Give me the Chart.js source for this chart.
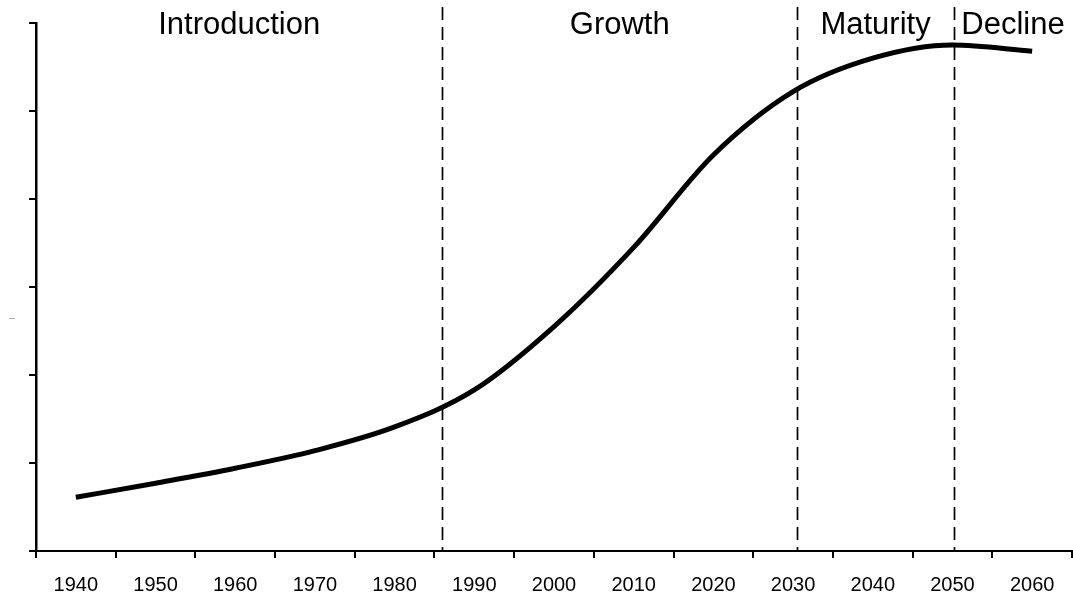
<!DOCTYPE html>
<html>
<head>
<meta charset="utf-8">
<script src="https://cdn.jsdelivr.net/npm/chart.js@4"></script>
<style>
  html, body { margin: 0; padding: 0; background: #fff; }
  #wrap { width: 1073px; height: 601px; position: relative; }
</style>
</head>
<body>
<div id="wrap"><canvas id="chart"></canvas></div>
<script>
// Product life cycle: sales volume over time, split into four stages
const years = ['1940', '1950', '1960', '1970', '1980', '1990', '2000',
               '2010', '2020', '2030', '2040', '2050', '2060'];
const sales = [0.61, 0.77, 0.94, 1.14, 1.41, 1.83, 2.55,
               3.45, 4.50, 5.22, 5.60, 5.75, 5.68];
const stageNames = ['Introduction', 'Growth', 'Maturity', 'Decline'];
const stageStarts = [1986, 2030.5, 2050.2];   // year each later stage begins
const yMin = 0, yMax = 6, yStep = 1;
const yAxisMark = '\u2013';

const FONT = "'Liberation Sans', Arial, Helvetica, sans-serif";

// year -> fractional category index on the x scale
const yearToIndex = y => (y - Number(years[0])) / (Number(years[1]) - Number(years[0]));

const stagesPlugin = {
  id: 'stages',
  beforeDatasetsDraw(chart) {
    const { ctx, chartArea: area, scales: { x } } = chart;
    const xs = stageStarts.map(y => x.getPixelForValue(yearToIndex(y)));
    ctx.save();
    // dashed stage boundaries
    ctx.strokeStyle = '#000';
    ctx.lineWidth = 1.7;
    ctx.setLineDash([13, 7]);
    xs.forEach(px => {
      ctx.beginPath();
      ctx.moveTo(Math.round(px) + 0.5, area.top - 16);
      ctx.lineTo(Math.round(px) + 0.5, area.bottom);
      ctx.stroke();
    });
    ctx.setLineDash([]);
    // stage names centred in each band
    const edges = [area.left, ...xs, area.right];
    ctx.fillStyle = '#000';
    ctx.font = '31px ' + FONT;
    ctx.textAlign = 'center';
    ctx.textBaseline = 'alphabetic';
    stageNames.forEach((name, i) => {
      ctx.fillText(name, (edges[i] + edges[i + 1]) / 2, area.top + 11);
    });
    // small y-axis mark
    ctx.fillStyle = '#8a8a8a';
    ctx.font = '10px ' + FONT;
    ctx.textBaseline = 'middle';
    ctx.fillText(yAxisMark, 12, (area.top + area.bottom) / 2 + 31);
    ctx.restore();
  }
};

new Chart(document.getElementById('chart'), {
  type: 'line',
  data: {
    labels: years,
    datasets: [{
      data: sales,
      borderColor: '#000',
      borderWidth: 5,
      borderCapStyle: 'butt',
      borderJoinStyle: 'round',
      pointRadius: 0,
      pointHoverRadius: 0,
      cubicInterpolationMode: 'monotone',
      fill: false
    }]
  },
  options: {
    responsive: true,
    maintainAspectRatio: false,
    animation: false,
    events: [],
    layout: { padding: { left: 0, right: 1, top: 23, bottom: 0 } },
    plugins: {
      legend: { display: false },
      tooltip: { enabled: false },
      title: { display: false }
    },
    scales: {
      x: {
        type: 'category',
        offset: true,
        grid: {
          offset: true,
          drawOnChartArea: false,
          drawTicks: true,
          tickLength: 7,
          color: '#000',
          lineWidth: 2
        },
        border: { display: true, color: '#000', width: 2 },
        ticks: {
          color: '#000',
          font: { family: FONT, size: 20 },
          padding: 15,
          maxRotation: 0,
          autoSkip: false
        },
        afterFit(scale) { scale.height = 50; }
      },
      y: {
        min: yMin,
        max: yMax,
        grid: {
          drawOnChartArea: false,
          drawTicks: true,
          tickLength: 7,
          color: '#000',
          lineWidth: 2
        },
        border: { display: true, color: '#000', width: 2.5 },
        ticks: { display: false, stepSize: yStep },
        afterFit(scale) { scale.width = 36; }
      }
    }
  },
  plugins: [stagesPlugin]
});
</script>
</body>
</html>
